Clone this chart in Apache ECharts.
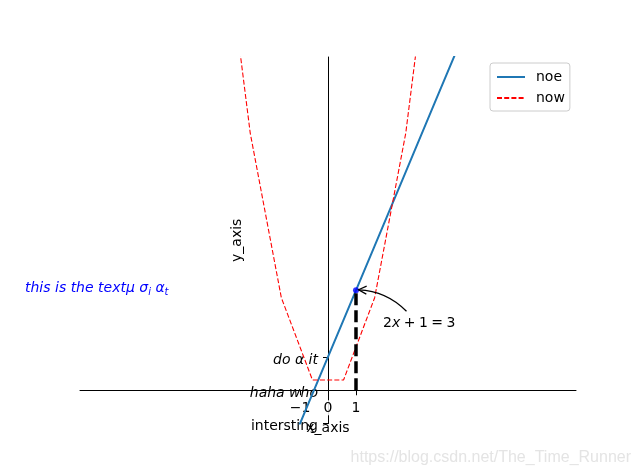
<!DOCTYPE html>
<html>
<head>
<meta charset="utf-8">
<script src="https://cdn.jsdelivr.net/npm/echarts@6/dist/echarts.min.js"></script>
<style>
html,body{margin:0;padding:0;background:#fff;}
#main{width:640px;height:476px;}
</style>
</head>
<body>
<div id="main"></div>
<script>
// ---- data ----
const xs = [-5, -3.889, -2.778, -1.667, -0.556, 0.556, 1.667, 2.778, 3.889, 5];
const noeY = [-9, -6.778, -4.556, -2.333, -0.111, 2.111, 4.333, 6.556, 8.778, 11];
const nowY = [25, 15.123, 7.716, 2.778, 0.309, 0.309, 2.778, 7.716, 15.123, 25];
const pointX = [1];
const pointY = [3];
const guideX = [1, 1];
const guideY = [0, 3];
const xTicks = [-1, 0, 1];
const xTickLabels = ['\u22121', '0', '1'];
const yTicks = [-1, 0, 1];
const yTickLabels = ['intersting', 'haha who', 'do \u03b1 it'];
const yTickItalic = [false, true, true];
const seriesNames = ['noe', 'now'];
const xRange = [-8.86, 8.86];
const yRange = [-1, 10];

const FONT = 'DejaVu Sans';
const G = { left: 80, right: 64, top: 57, bottom: 52.4 };
const gridW = 640 - G.left - G.right;
const gridH = 476 - G.top - G.bottom;
// move the spines to data 0 (like matplotlib set_position(('data',0)))
const yAxisOffset = -((0 - xRange[0]) / (xRange[1] - xRange[0])) * gridW;
const xAxisOffset = -((0 - yRange[0]) / (yRange[1] - yRange[0])) * gridH;

const pairs = (a, b) => a.map((v, i) => [v, b[i]]);

const option = {
  animation: false,
  backgroundColor: '#ffffff',
  grid: Object.assign({ containLabel: false, outerBoundsMode: 'none' }, G),
  legend: {
    data: seriesNames,
    orient: 'vertical',
    left: 490, top: 63,
    padding: [7, 5, 6, 6],
    itemWidth: 28, itemHeight: 14, itemGap: 7,
    borderColor: '#cccccc', borderWidth: 1, borderRadius: 3,
    backgroundColor: 'rgba(255,255,255,0.8)',
    itemStyle: { opacity: 0 },
    textStyle: { fontFamily: FONT, fontSize: 14, color: '#000', padding: [0, 0, 0, 6] }
  },
  xAxis: {
    type: 'value', min: xRange[0], max: xRange[1], z: 3,
    position: 'bottom', offset: xAxisOffset,
    name: 'x_axis', nameLocation: 'middle', nameGap: 31, nameMoveOverlap: false,
    nameTextStyle: { fontFamily: FONT, fontSize: 14, color: '#000' },
    axisLine: { onZero: false, lineStyle: { color: '#000', width: 1 } },
    axisTick: { show: true, customValues: xTicks, length: 5, lineStyle: { color: '#000' } },
    axisLabel: {
      customValues: xTicks, margin: 10, hideOverlap: false,
      fontFamily: FONT, fontSize: 14, color: '#000',
      backgroundColor: 'rgba(255,255,255,0.85)', padding: [1, 1, 0, 1],
      formatter: v => xTickLabels[xTicks.indexOf(v)]
    },
    splitLine: { show: false }
  },
  yAxis: {
    type: 'value', min: yRange[0], max: yRange[1], z: 1,
    position: 'left', offset: yAxisOffset,
    name: 'y_axis', nameLocation: 'middle', nameGap: 84, nameRotate: 90, nameMoveOverlap: false,
    nameTextStyle: { fontFamily: FONT, fontSize: 14, color: '#000' },
    axisLine: { onZero: false, lineStyle: { color: '#000', width: 1 } },
    axisTick: { show: true, customValues: yTicks, length: 5, lineStyle: { color: '#000' } },
    axisLabel: {
      customValues: yTicks, margin: 10, hideOverlap: false,
      padding: [6, 0, 0, 0],
      fontFamily: FONT, fontSize: 14, color: '#000',
      formatter: v => {
        const i = yTicks.indexOf(v);
        return (yTickItalic[i] ? '{i|' : '{n|') + yTickLabels[i] + '}';
      },
      rich: {
        n: { fontFamily: FONT, fontSize: 14, color: '#000' },
        i: { fontFamily: FONT, fontSize: 14, color: '#000', fontStyle: 'italic' }
      }
    },
    splitLine: { show: false }
  },
  series: [
    {
      name: seriesNames[0], type: 'line', data: pairs(xs, noeY),
      symbol: 'none', clip: true, z: 3,
      color: '#1f77b4',
      lineStyle: { color: '#1f77b4', width: 2 }
    },
    {
      name: seriesNames[1], type: 'line', data: pairs(xs, nowY),
      symbol: 'none', clip: true, z: 3,
      color: '#ff0000',
      lineStyle: { color: '#ff0000', width: 1.1, type: [5, 2.2] }
    },
    {
      name: 'guide', type: 'line', data: pairs(guideX, guideY),
      symbol: 'none', z: 4, silent: true,
      lineStyle: { color: '#000', width: 3.5, type: [12, 5] }
    },
    {
      name: 'point', type: 'scatter', data: pairs(pointX, pointY),
      symbolSize: 6, z: 5,
      itemStyle: { color: '#0000ff' }
    }
  ]
};

const chart = echarts.init(document.getElementById('main'), null, { renderer: 'canvas' });
chart.setOption(option);

const p = chart.convertToPixel({ gridIndex: 0 }, [pointX[0], pointY[0]]);
const s = [p[0] + 50.5, p[1] + 21];
const e = [p[0] + 2.5, p[1] - 0.5];
const c = [(s[0] + e[0]) / 2 - 0.2 * (e[1] - s[1]), (s[1] + e[1]) / 2 + 0.2 * (e[0] - s[0])];
let dx = e[0] - c[0], dy = e[1] - c[1];
const L = Math.hypot(dx, dy); dx /= L; dy /= L;
const hl = 8, hw = 4;
const h1 = [e[0] - dx * hl - dy * hw, e[1] - dy * hl + dx * hw];
const h2 = [e[0] - dx * hl + dy * hw, e[1] - dy * hl - dx * hw];
const sp = '\u2005';

chart.setOption({
  graphic: [
    {
      type: 'bezierCurve', z: 10, silent: true,
      shape: { x1: s[0], y1: s[1], cpx1: c[0], cpy1: c[1], x2: e[0], y2: e[1] },
      style: { stroke: '#000', lineWidth: 1.2, fill: null }
    },
    {
      type: 'polyline', z: 10, silent: true,
      shape: { points: [h1, e, h2] },
      style: { stroke: '#000', lineWidth: 1.2, fill: null }
    },
    {
      type: 'text', z: 10, left: p[0] + 27, top: p[1] + 26,
      style: {
        text: '{n|2}{i|x}{n|' + sp + '+' + sp + '1' + sp + '=' + sp + '3}',
        rich: {
          n: { fontFamily: FONT, fontSize: 14, fill: '#000' },
          i: { fontFamily: FONT, fontSize: 14, fill: '#000', fontStyle: 'italic' }
        }
      }
    },
    {
      type: 'text', z: 10, left: 25, top: 281,
      style: {
        text: '{a|this is the text\u03bc \u03c3}{s|i}{a| \u03b1}{s|t}',
        rich: {
          a: { fontFamily: FONT, fontSize: 14, fontStyle: 'italic', fill: '#0000ff', lineHeight: 18, verticalAlign: 'middle' },
          s: { fontFamily: FONT, fontSize: 10, fontStyle: 'italic', fill: '#0000ff', lineHeight: 10, verticalAlign: 'bottom' }
        }
      }
    },
    {
      type: 'text', z: 10, right: 9, top: 450,
      style: {
        text: 'https://blog.csdn.net/The_Time_Runner',
        fontFamily: 'Liberation Sans', fontSize: 16, fill: '#e4e4e4'
      }
    }
  ]
});
</script>
</body>
</html>
